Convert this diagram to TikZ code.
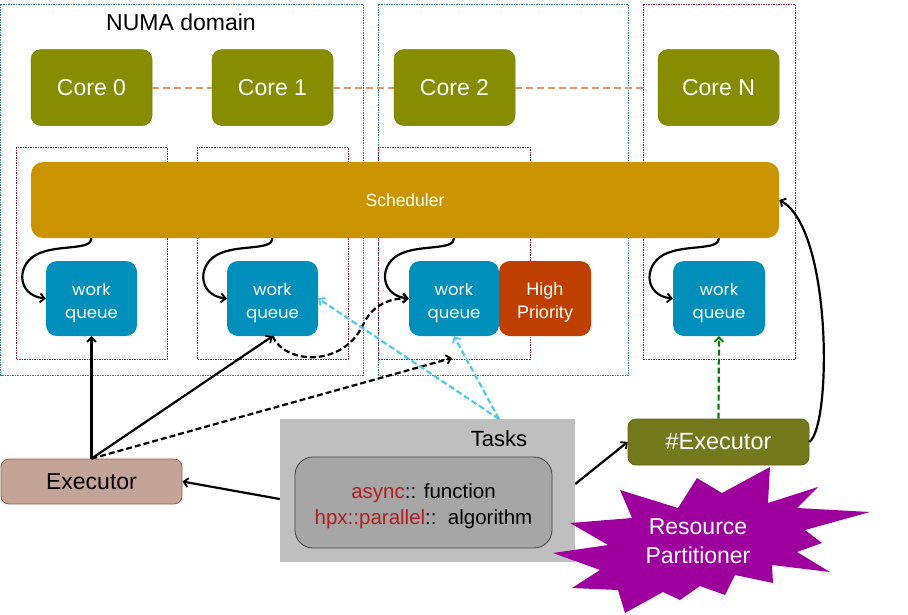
\documentclass[tikz,border=0pt]{standalone}
\usepackage{fontspec}
\setmainfont{Liberation Sans}
\newfontfamily\popfont{Poppins}
\usetikzlibrary{arrows.meta}
\definecolor{coreol}{RGB}{134,141,0}
\definecolor{schedc}{RGB}{201,148,0}
\definecolor{wqblue}{RGB}{0,142,186}
\definecolor{hprio}{RGB}{191,63,0}
\definecolor{hexecc}{RGB}{117,121,29}
\definecolor{execc}{RGB}{196,164,152}
\definecolor{execb}{RGB}{150,95,60}
\definecolor{taskg}{RGB}{191,191,191}
\definecolor{innerg}{RGB}{166,166,166}
\definecolor{redtxt}{RGB}{175,30,30}
\definecolor{burst}{RGB}{158,0,158}
\definecolor{cyanl}{RGB}{80,200,240}
\definecolor{greenl}{RGB}{0,130,0}
\definecolor{tanl}{RGB}{222,150,105}
\definecolor{numab}{RGB}{40,130,160}
\definecolor{redb}{RGB}{160,20,50}
\newcommand{\lowtxt}[2]{\raisebox{-#1}[\height][\depth]{\begin{tabular}{@{}c@{}}#2\end{tabular}}}
\tikzset{
  fsz/.style={font=\fontsize{#1}{#1}\selectfont},
  corebox/.style={rectangle,rounded corners=10pt,fill=coreol,draw=coreol!85!black,line width=0.5pt,
    minimum width=121pt,minimum height=76pt,text=white,fsz=23},
  wqbox/.style={rectangle,rounded corners=11pt,fill=wqblue,minimum width=91pt,minimum height=75pt,
    text=white,align=center,font=\popfont\fontsize{16.5}{23}\selectfont},
  numabox/.style={draw=numab,line width=0.8pt,dash pattern=on 1.5pt off 1pt},
  redbox/.style={draw=redb,line width=0.8pt,dash pattern=on 1.5pt off 1pt},
  arr/.style={line width=2.2pt,-{Straight Barb[length=4.5pt,width=9pt,line width=1.8pt]}},
  tandash/.style={draw=tanl,line width=2pt,dash pattern=on 7pt off 4pt},
}
\begin{document}
\begin{tikzpicture}[x=1pt,y=-1pt]
\useasboundingbox (0,0) rectangle (908,614);
% background frames
\draw[numabox] (0.5,4) rectangle (363,375);
\draw[numabox] (378,4) rectangle (628,375);
\draw[redbox] (16,147) rectangle (167,359);
\draw[redbox] (197,147) rectangle (348,359);
\draw[redbox] (378,147) rectangle (530,359);
\draw[redbox] (643,4) rectangle (795,359);
\coordinate (nedge) at (643,87.5);
\node[fsz=23] (numa) at (181,22) {NUMA domain};
% cores
\node[corebox] (core0) at (91.5,87.5) {Core 0};
\node[corebox] (core1) at (272.5,87.5) {Core 1};
\node[corebox] (core2) at (454.5,87.5) {Core 2};
\node[corebox] (coreN) at (718.5,87.5) {Core N};
\draw[tandash] (core0.east) -- (core1.west);
\draw[tandash] (core1.east) -- (core2.west);
\draw[tandash] (core2.east) -- (nedge);
% scheduler
\node[rectangle,rounded corners=12pt,fill=schedc,minimum width=748pt,minimum height=76pt,
  text=white,fsz=17.5] (sched) at (405,200) {Scheduler};
% work queues
\node[wqbox] (wq0) at (91.5,298.5) {\lowtxt{3.5pt}{work\\queue}};
\node[wqbox] (wq1) at (272.5,298.5) {\lowtxt{3.5pt}{work\\queue}};
\node[wqbox,minimum width=90pt] (wq2) at (454,298.5) {\lowtxt{3.5pt}{work\\queue}};
\node[rectangle,rounded corners=11pt,fill=hprio,minimum width=92pt,minimum height=75pt,
  text=white,align=center,font=\fontsize{18}{23}\selectfont] (hp) at (545,298.5) {\lowtxt{3.5pt}{High\\Priority}};
\node[wqbox,minimum width=92pt] (wqN) at (719,298.5) {\lowtxt{3.5pt}{work\\queue}};
\foreach \n in {wq0,wq1,wq2,wqN}{
  \draw[arr] (\n.north |- sched.south) .. controls +(0,12) and +(20,-8) ..
    ([xshift=-51pt,yshift=8pt]\n.north) .. controls +(-25,9) and +(-30,-3) .. (\n.west);
}
% tasks
\node[rectangle,fill=taskg,minimum width=295pt,minimum height=143pt] (tasks) at (427.5,490.5) {};
\node[fsz=22] (tlabel) at (499,439) {Tasks};
\node[rectangle,rounded corners=18pt,fill=innerg,draw=black!75,line width=0.8pt,
  minimum width=257pt,minimum height=91pt,align=center,font=\fontsize{20.5}{26}\selectfont]
  (inner) at (423.5,502.5) {\lowtxt{3.5pt}{\textcolor{redtxt}{async}:: function\\\textcolor{redtxt}{hpx::parallel}::\ \ algorithm}};
% executors
\node[rectangle,rounded corners=8pt,fill=execc,draw=execb,line width=0.8pt,
  minimum width=181pt,minimum height=45pt,fsz=23] (exec) at (91.5,481.5) {Executor};
\node[rectangle,rounded corners=8pt,fill=hexecc,draw=hexecc!80!black,line width=0.8pt,
  minimum width=181pt,minimum height=46pt,text=white,fsz=23.5] (hexec) at (718.5,442) {\#Executor};
% resource partitioner starburst
\fill[burst] (697,478) -- (722,493) -- (770,467) -- (768,503) -- (818,487) -- (797,508)
  -- (870,512) -- (805,530) -- (822,543) -- (797,552) -- (830,572) -- (772,565)
  -- (773,583) -- (735,575) -- (725,595) -- (700,586) -- (680,600) -- (663,592)
  -- (625,613) -- (618,590) -- (572,588) -- (600,570) -- (553,553) -- (608,545)
  -- (570,523) -- (632,518) -- (620,490) -- (678,508) -- cycle;
\node[text=white,align=center,font=\fontsize{23}{29}\selectfont] (rp) at (698,541) {Resource\\Partitioner};
% connectors
\coordinate (d2) at (452,358);
\coordinate (ct) at (499,419);
\draw[arr] (exec.north) -- (wq0.south);
\draw[arr] (exec.north) -- (wq1.south);
\draw[arr,dash pattern=on 6pt off 3pt] (exec.north) -- (d2);
\draw[arr,dash pattern=on 6pt off 3pt] (wq1.south) .. controls (285,364) and (342,368) .. (363,325)
  .. controls (372,305) and (390,298) .. (wq2.west);
\draw[arr,draw=cyanl,dash pattern=on 6pt off 3pt] (ct) -- (wq1.east);
\draw[arr,draw=cyanl,dash pattern=on 6pt off 3pt] (ct) -- (wq2.south);
\draw[arr,draw=greenl,dash pattern=on 6pt off 3pt] (hexec.north) -- (wqN.south);
\draw[arr] (hexec.east) .. controls (832,425) and (832,228) .. (sched.east);
\draw[arr] ([yshift=-8.5pt]tasks.west) -- (exec.east);
\draw[arr] ([yshift=6.5pt]tasks.east) -- (hexec.west);
\end{tikzpicture}
\end{document}
